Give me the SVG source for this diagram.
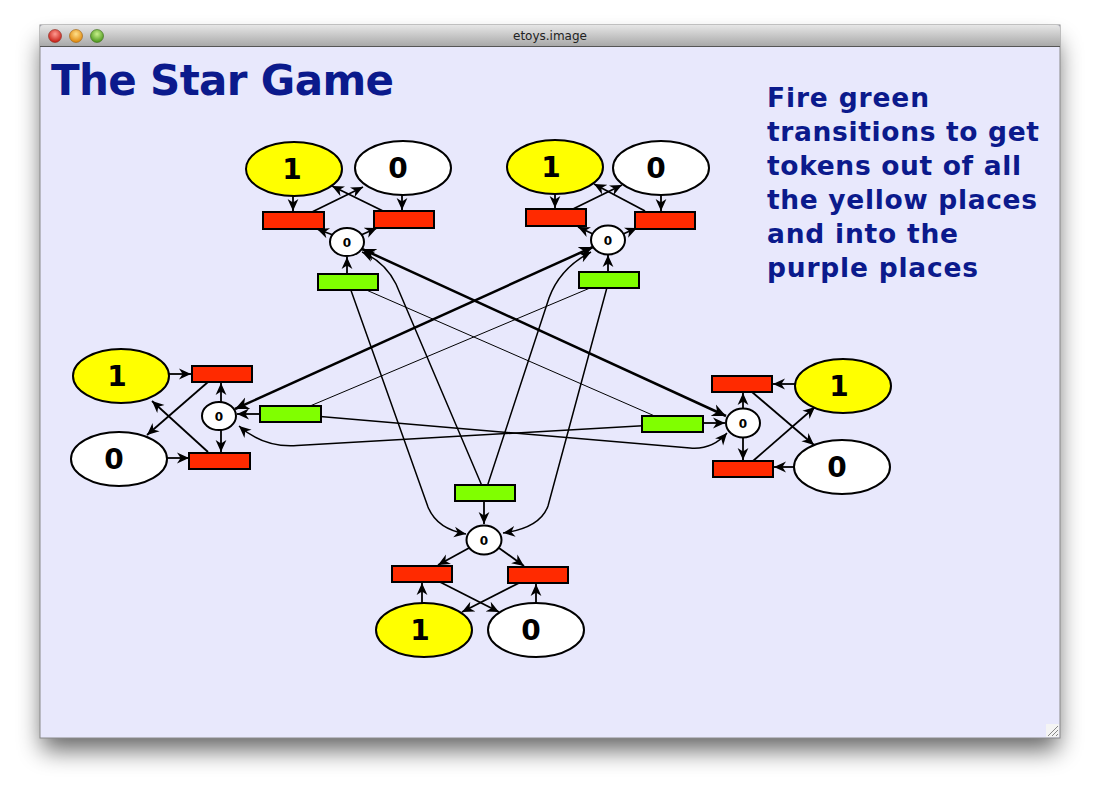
<svg xmlns="http://www.w3.org/2000/svg" width="1100" height="793" viewBox="0 0 1100 793">
<defs>
<style>
.place{stroke:#000;stroke-width:2}
.yellow{fill:#ffff00}
.white{fill:#ffffff}
.red{fill:#ff2a00;stroke:#000;stroke-width:2}
.green{fill:#80ff00;stroke:#000;stroke-width:2}
.big{font-family:"DejaVu Sans",sans-serif;font-weight:bold;font-size:28px;text-anchor:middle;fill:#000}
.small{font-family:"DejaVu Sans",sans-serif;font-weight:bold;font-size:12px;text-anchor:middle;fill:#000}
.arc{fill:none;stroke:#000;stroke-width:1.8;marker-end:url(#ah)}
.curve{fill:none;stroke:#000;stroke-width:1.5;marker-end:url(#ah)}
.thin{fill:none;stroke:#000;stroke-width:1}
.thick{fill:none;stroke:#000;stroke-width:2.5;marker-start:url(#ahs);marker-end:url(#ahb)}
.blue{font-family:"DejaVu Sans",sans-serif;font-weight:bold;fill:#0b1a8c}
</style>
<marker id="ah" viewBox="0 0 10 10" refX="10" refY="5" markerWidth="12" markerHeight="12" markerUnits="userSpaceOnUse" orient="auto"><path d="M0,0.5 L10,5 L0,9.5 L3,5 z" fill="#000"/></marker>
<marker id="ahb" viewBox="0 0 10 10" refX="10" refY="5" markerWidth="14" markerHeight="14" markerUnits="userSpaceOnUse" orient="auto"><path d="M0,0.5 L10,5 L0,9.5 L3,5 z" fill="#000"/></marker>
<marker id="ahs" viewBox="0 0 10 10" refX="10" refY="5" markerWidth="14" markerHeight="14" markerUnits="userSpaceOnUse" orient="auto-start-reverse"><path d="M0,0.5 L10,5 L0,9.5 L3,5 z" fill="#000"/></marker>
<linearGradient id="tbar" x1="0" y1="0" x2="0" y2="1"><stop offset="0" stop-color="#e6e6e6"/><stop offset="1" stop-color="#a9a9a9"/></linearGradient>
<radialGradient id="gr" cx="0.5" cy="0.35" r="0.6"><stop offset="0" stop-color="#ff9a90"/><stop offset="1" stop-color="#c8221a"/></radialGradient>
<radialGradient id="go" cx="0.5" cy="0.35" r="0.6"><stop offset="0" stop-color="#ffe08a"/><stop offset="1" stop-color="#e08a10"/></radialGradient>
<radialGradient id="gg" cx="0.5" cy="0.35" r="0.6"><stop offset="0" stop-color="#c8f08a"/><stop offset="1" stop-color="#4f9a20"/></radialGradient>
<filter id="shadow" x="-10%" y="-10%" width="120%" height="130%"><feGaussianBlur stdDeviation="12"/></filter>
</defs>
<rect width="1100" height="793" fill="#ffffff"/>
<rect x="42" y="42" width="1016" height="708" fill="#000" opacity="0.6" filter="url(#shadow)"/>
<g id="window">
<rect x="40" y="25" width="1020" height="713" fill="#e8e8fc" stroke="#8a8a8a" stroke-width="1"/>
<path d="M40,46 L40,29 Q40,25 44,25 L1056,25 Q1060,25 1060,29 L1060,46 Z" fill="url(#tbar)"/>
<line x1="40" y1="46.5" x2="1060" y2="46.5" stroke="#555" stroke-width="1"/>
<circle cx="55" cy="36" r="6.5" fill="url(#gr)" stroke="#8a2a20" stroke-width="0.6"/>
<circle cx="76" cy="36" r="6.5" fill="url(#go)" stroke="#9a6010" stroke-width="0.6"/>
<circle cx="97" cy="36" r="6.5" fill="url(#gg)" stroke="#3a6a18" stroke-width="0.6"/>
<text x="550" y="40" font-family="'DejaVu Sans',sans-serif" font-size="12" text-anchor="middle" fill="#222">etoys.image</text>
<rect x="1046" y="724" width="13" height="13" fill="#f4f4f4"/>
<path d="M1048,736 L1058,726 M1052,736 L1058,730 M1056,736 L1058,734" stroke="#888" stroke-width="1"/>
</g>
<text class="blue" x="51" y="95" font-size="42" textLength="343" lengthAdjust="spacing">The Star Game</text>
<g id="instructions" class="blue" font-size="26.5">
<text x="767" y="107" textLength="162" lengthAdjust="spacing">Fire green</text>
<text x="767" y="141" textLength="272" lengthAdjust="spacing">transitions to get</text>
<text x="767" y="175" textLength="254" lengthAdjust="spacing">tokens out of all</text>
<text x="767" y="209" textLength="270" lengthAdjust="spacing">the yellow places</text>
<text x="767" y="243" textLength="191" lengthAdjust="spacing">and into the</text>
<text x="767" y="277" textLength="211" lengthAdjust="spacing">purple places</text>
</g>
<g id="connectors">
<path class="thin" d="M348,282 L673,424"/>
<path class="thin" d="M609,280 L291,414"/>
<path class="curve" d="M348,282 L428,507 Q437,529 466,534"/>
<path class="curve" d="M609,280 L548,506 Q540,528 503,533"/>
<path class="curve" d="M485,493 L396,284 Q385,262 362,252"/>
<path class="curve" d="M485,493 L549,298 Q560,268 591,252"/>
<path class="curve" d="M291,414 L690,448 Q712,450 727,433"/>
<path class="curve" d="M673,424 L297,445.5 Q264,448 239,426"/>
<path class="thick" d="M362,249 L726,416"/>
<path class="thick" d="M593,247 L235,409"/>
<path class="arc" d="M293,196 L293,211"/>
<path class="arc" d="M402,195 L402,210"/>
<path class="arc" d="M312,212 L363,187"/>
<path class="arc" d="M383,211 L332,186"/>
<path class="arc" d="M333,235 L317,229"/>
<path class="arc" d="M361,235 L377,228"/>
<path class="arc" d="M347,274 L347,257"/>
<path class="arc" d="M555,193 L555,208"/>
<path class="arc" d="M661,195 L661,211"/>
<path class="arc" d="M573,209 L622,185"/>
<path class="arc" d="M645,211 L594,184"/>
<path class="arc" d="M593,234 L578,227"/>
<path class="arc" d="M623,234 L637,228"/>
<path class="arc" d="M608,272 L608,255"/>
<path class="arc" d="M169,374 L191,374"/>
<path class="arc" d="M167,458 L189,458"/>
<path class="arc" d="M208,382 L147,435"/>
<path class="arc" d="M208,452 L152,401"/>
<path class="arc" d="M221,402 L221,383"/>
<path class="arc" d="M221,430 L221,452"/>
<path class="arc" d="M260,414 L237,414"/>
<path class="arc" d="M795,384 L773,384"/>
<path class="arc" d="M794,467 L774,467"/>
<path class="arc" d="M752,392 L814,445"/>
<path class="arc" d="M753,461 L815,407"/>
<path class="arc" d="M743,408 L743,393"/>
<path class="arc" d="M743,437 L743,460"/>
<path class="arc" d="M703,423 L725,423"/>
<path class="arc" d="M484,501 L484,524"/>
<path class="arc" d="M469,548 L438,565"/>
<path class="arc" d="M499,548 L524,566"/>
<path class="arc" d="M422,603 L422,583"/>
<path class="arc" d="M536,603 L536,584"/>
<path class="arc" d="M440,582 L499,612"/>
<path class="arc" d="M519,583 L462,612"/>
</g>
<g id="tl-yellow"><ellipse class="place yellow" cx="294" cy="169" rx="48" ry="27"/><text class="big" x="292" y="179">1</text></g>
<g id="tl-white"><ellipse class="place white" cx="403" cy="168" rx="48" ry="27"/><text class="big" x="398" y="178">0</text></g>
<g id="tl-red-left"><rect class="red" x="263" y="212" width="61" height="17"/></g>
<g id="tl-red-right"><rect class="red" x="374" y="211" width="60" height="17"/></g>
<g id="tl-center"><ellipse class="place white" cx="347" cy="242" rx="17" ry="14"/><text class="small" x="347" y="246.5">0</text></g>
<g id="tl-green"><rect class="green" x="318" y="274" width="60" height="16"/></g>
<g id="tr-yellow"><ellipse class="place yellow" cx="555" cy="167" rx="48" ry="27"/><text class="big" x="551" y="177">1</text></g>
<g id="tr-white"><ellipse class="place white" cx="661" cy="168" rx="48" ry="27"/><text class="big" x="656" y="178">0</text></g>
<g id="tr-red-left"><rect class="red" x="526" y="209" width="60" height="17"/></g>
<g id="tr-red-right"><rect class="red" x="635" y="212" width="60" height="17"/></g>
<g id="tr-center"><ellipse class="place white" cx="608" cy="240" rx="17" ry="14.5"/><text class="small" x="608" y="244.5">0</text></g>
<g id="tr-green"><rect class="green" x="579" y="272" width="60" height="16"/></g>
<g id="l-yellow"><ellipse class="place yellow" cx="121" cy="376" rx="48" ry="27"/><text class="big" x="117" y="386">1</text></g>
<g id="l-white"><ellipse class="place white" cx="119" cy="459" rx="48" ry="27"/><text class="big" x="114" y="469">0</text></g>
<g id="l-red-top"><rect class="red" x="192" y="366" width="60" height="16"/></g>
<g id="l-red-bottom"><rect class="red" x="189" y="453" width="61" height="16"/></g>
<g id="l-center"><ellipse class="place white" cx="219" cy="416" rx="17" ry="14"/><text class="small" x="219" y="420.5">0</text></g>
<g id="l-green"><rect class="green" x="260" y="406" width="61" height="16"/></g>
<g id="r-yellow"><ellipse class="place yellow" cx="843" cy="386" rx="48" ry="27"/><text class="big" x="839" y="396">1</text></g>
<g id="r-white"><ellipse class="place white" cx="842" cy="467" rx="48" ry="27"/><text class="big" x="837" y="477">0</text></g>
<g id="r-red-top"><rect class="red" x="712" y="376" width="60" height="16"/></g>
<g id="r-red-bottom"><rect class="red" x="713" y="461" width="60" height="16"/></g>
<g id="r-center"><ellipse class="place white" cx="743" cy="423" rx="17" ry="14.5"/><text class="small" x="743" y="427.5">0</text></g>
<g id="r-green"><rect class="green" x="642" y="416" width="61" height="16"/></g>
<g id="b-green"><rect class="green" x="455" y="485" width="60" height="16"/></g>
<g id="b-center"><ellipse class="place white" cx="484" cy="540" rx="17.5" ry="14.5"/><text class="small" x="484" y="544.5">0</text></g>
<g id="b-red-left"><rect class="red" x="392" y="566" width="60" height="16"/></g>
<g id="b-red-right"><rect class="red" x="508" y="567" width="60" height="16"/></g>
<g id="b-yellow"><ellipse class="place yellow" cx="424" cy="630" rx="48" ry="27"/><text class="big" x="420" y="640">1</text></g>
<g id="b-white"><ellipse class="place white" cx="536" cy="630" rx="48" ry="27"/><text class="big" x="531" y="640">0</text></g>
</svg>
